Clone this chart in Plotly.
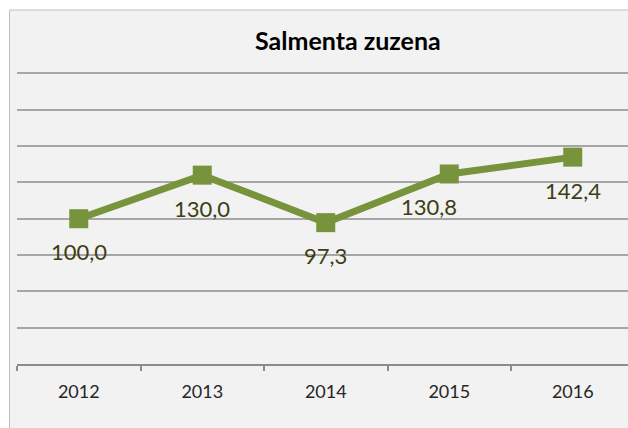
import plotly.graph_objects as go

years = ["2012", "2013", "2014", "2015", "2016"]
values = [100.0, 130.0, 97.3, 130.8, 142.4]
labels = ["100,0", "130,0", "97,3", "130,8", "142,4"]
label_xshift = [0, 0, 0, -20, 0]

title_text = "Salmenta zuzena"
line_color = "#77933c"
label_color = "#3d3d14"
grid_color = "#a6a6a6"
font_family = "Lato, 'Open Sans', sans-serif"

W, H = 628, 428
L, R, T, B = 17, 0, 72, 64
pw = W - L - R
ph = H - T - B

fig = go.Figure()
fig.add_trace(go.Scatter(
    x=years, y=values, mode="lines+markers",
    line=dict(color=line_color, width=7),
    marker=dict(symbol="square", size=19, color=line_color),
    hoverinfo="skip", showlegend=False,
))

annotations = []
for i, (v, lab, xs) in enumerate(zip(values, labels, label_xshift)):
    annotations.append(dict(
        x=i, y=v, xref="x", yref="y", text=lab, showarrow=False,
        yshift=-33, xshift=xs,
        font=dict(family=font_family, size=22, color=label_color),
    ))

annotations.append(dict(
    x=(348 - L) / pw, y=(H - B - 40) / ph, xref="paper", yref="paper",
    xanchor="center", yanchor="middle", showarrow=False,
    text="<b>" + title_text + "</b>",
    font=dict(family=font_family, size=25, color="#000000"),
))

fig.update_layout(
    width=W, height=H,
    margin=dict(l=L, r=R, t=T, b=B, pad=0),
    paper_bgcolor="white",
    plot_bgcolor="rgba(0,0,0,0)",
    annotations=annotations,
    shapes=[dict(
        type="rect", xref="paper", yref="paper", layer="below",
        x0=(9.5 - L) / pw, x1=1.2,
        y0=(H - B - 460) / ph, y1=(H - B - 10) / ph,
        fillcolor="#f2f2f2", line=dict(color="#bfbfbf", width=1),
    )],
    xaxis=dict(
        type="category", range=[-0.5, -0.5 + pw / 123.5],
        tickson="boundaries", ticks="outside", ticklen=5, tickwidth=1.5,
        tickcolor="#8c8c8c", showline=True, linecolor="#8c8c8c", linewidth=1.5,
        showgrid=False, ticklabelstandoff=11,
        tickfont=dict(family=font_family, size=18, color="#262626"),
    ),
    yaxis=dict(
        range=[0, 201], dtick=25, showticklabels=False, ticks="",
        showgrid=True, gridcolor=grid_color, gridwidth=1.5,
        zeroline=False, showline=False,
    ),
)

fig.write_html("out.html", config={"displayModeBar": False},
               post_script="document.body.style.margin='0px';")
